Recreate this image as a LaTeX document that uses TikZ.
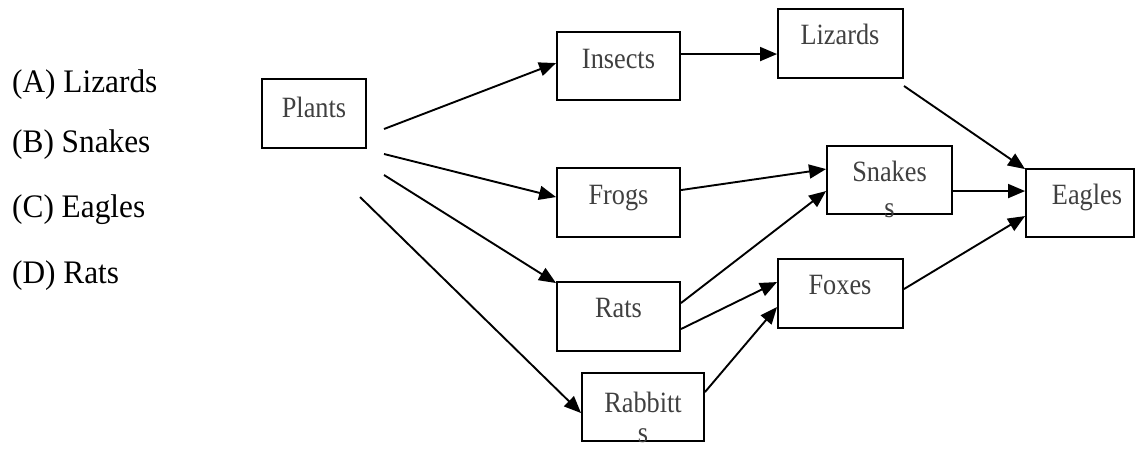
\documentclass[tikz,border=0pt]{standalone}
\usepackage{fontspec}
\setmainfont{Liberation Serif}
\usetikzlibrary{arrows.meta,calc}
\definecolor{boxtext}{RGB}{64,64,64}
\newcommand{\tallbox}[1]{\scalebox{1}[1.12]{#1}}
\newcommand{\tallopt}[1]{\scalebox{1}[1.05]{#1}}
\tikzset{
  foodbox/.style={draw=black, line width=1.9pt, rectangle, inner sep=0pt},
  boxlabel/.style={anchor=base, inner sep=0pt, text=boxtext, font=\fontsize{26.3}{30}\selectfont},
  optlabel/.style={anchor=base west, inner sep=0pt, text=black, font=\fontsize{31.3}{36}\selectfont},
  arr/.style={line width=1.9pt, -{Triangle[length=17pt,width=14pt]}}
}
\begin{document}
\begin{tikzpicture}[x=1pt,y=-1pt]
\useasboundingbox (0,0) rectangle (1148,448);
\clip (0,0) rectangle (1148,448);
% options
\node[optlabel] (optA) at (12,92) {\tallopt{(A) Lizards}};
\node[optlabel] (optB) at (12,152) {\tallopt{(B) Snakes}};
\node[optlabel] (optC) at (12,217) {\tallopt{(C) Eagles}};
\node[optlabel] (optD) at (12,283) {\tallopt{(D) Rats}};
% boxes
\node[foodbox, minimum width=104pt, minimum height=69pt] (plants) at (314,113.5) {};
\node[foodbox, minimum width=123pt, minimum height=68pt] (insects) at (618.5,66) {};
\node[foodbox, minimum width=125pt, minimum height=69pt] (lizards) at (840.5,43.5) {};
\node[foodbox, minimum width=123pt, minimum height=69pt] (frogs) at (618.5,202.5) {};
\node[foodbox, minimum width=125pt, minimum height=68pt] (snakes) at (889.5,180) {};
\node[foodbox, minimum width=108pt, minimum height=68pt] (eagles) at (1080,203) {};
\node[foodbox, minimum width=123pt, minimum height=69pt] (rats) at (618.5,316.5) {};
\node[foodbox, minimum width=125pt, minimum height=69pt] (foxes) at (840.5,293.5) {};
\node[foodbox, minimum width=122pt, minimum height=68pt] (rabbitts) at (643,407) {};
% labels
\node[boxlabel] (tplants) at (314,117) {\tallbox{Plants}};
\node[boxlabel] (tinsects) at (618.5,68) {\tallbox{Insects}};
\node[boxlabel] (tlizards) at (840,44) {\tallbox{Lizards}};
\node[boxlabel] (tfrogs) at (618.5,204) {\tallbox{Frogs}};
\node[boxlabel] (tsnakes) at (889.5,181) {\tallbox{Snakes}};
\node[boxlabel] (tsnakes2) at (889.5,217) {\tallbox{s}};
\node[boxlabel] (teagles) at (1087,204) {\tallbox{Eagles}};
\node[boxlabel] (trats) at (618.5,317) {\tallbox{Rats}};
\node[boxlabel] (tfoxes) at (840,294) {\tallbox{Foxes}};
\node[boxlabel] (trabbitts) at (643,412) {\tallbox{Rabbitt}};
\node[boxlabel] (trabbitts2) at (643,442) {\tallbox{s}};
% free ends
\coordinate (p1) at (384,129);
\coordinate (p2) at (384,154);
\coordinate (p3) at (384,175);
\coordinate (p4) at (360,197);
\coordinate (l1) at (904,86);
% arrows
\draw[arr] (p1) -- ($(insects.north west)+(0,32)$);
\draw[arr] (p2) -- ($(frogs.north west)+(0,30)$);
\draw[arr] (p3) -- ($(rats.north west)+(0,2)$);
\draw[arr] (p4) -- ($(rabbitts.north west)+(0,41)$);
\draw[arr] ($(insects.north east)+(0,23)$) -- ($(lizards.north west)+(0,46)$);
\draw[arr] (l1) -- ($(eagles.north west)+(0,1)$);
\draw[arr] ($(frogs.north east)+(0,23)$) -- ($(snakes.north west)+(0,24)$);
\draw[arr] ($(snakes.north east)+(0,46)$) -- ($(eagles.north west)+(0,23)$);
\draw[arr] ($(rats.north east)+(0,22)$) -- ($(snakes.north west)+(0,46)$);
\draw[arr] ($(rats.north east)+(0,48)$) -- ($(foxes.north west)+(0,24)$);
\draw[arr] ($(rabbitts.north east)+(0,20)$) -- ($(foxes.north west)+(0,49)$);
\draw[arr] ($(foxes.north east)+(0,31)$) -- ($(eagles.north west)+(0,48)$);
\end{tikzpicture}
\end{document}
